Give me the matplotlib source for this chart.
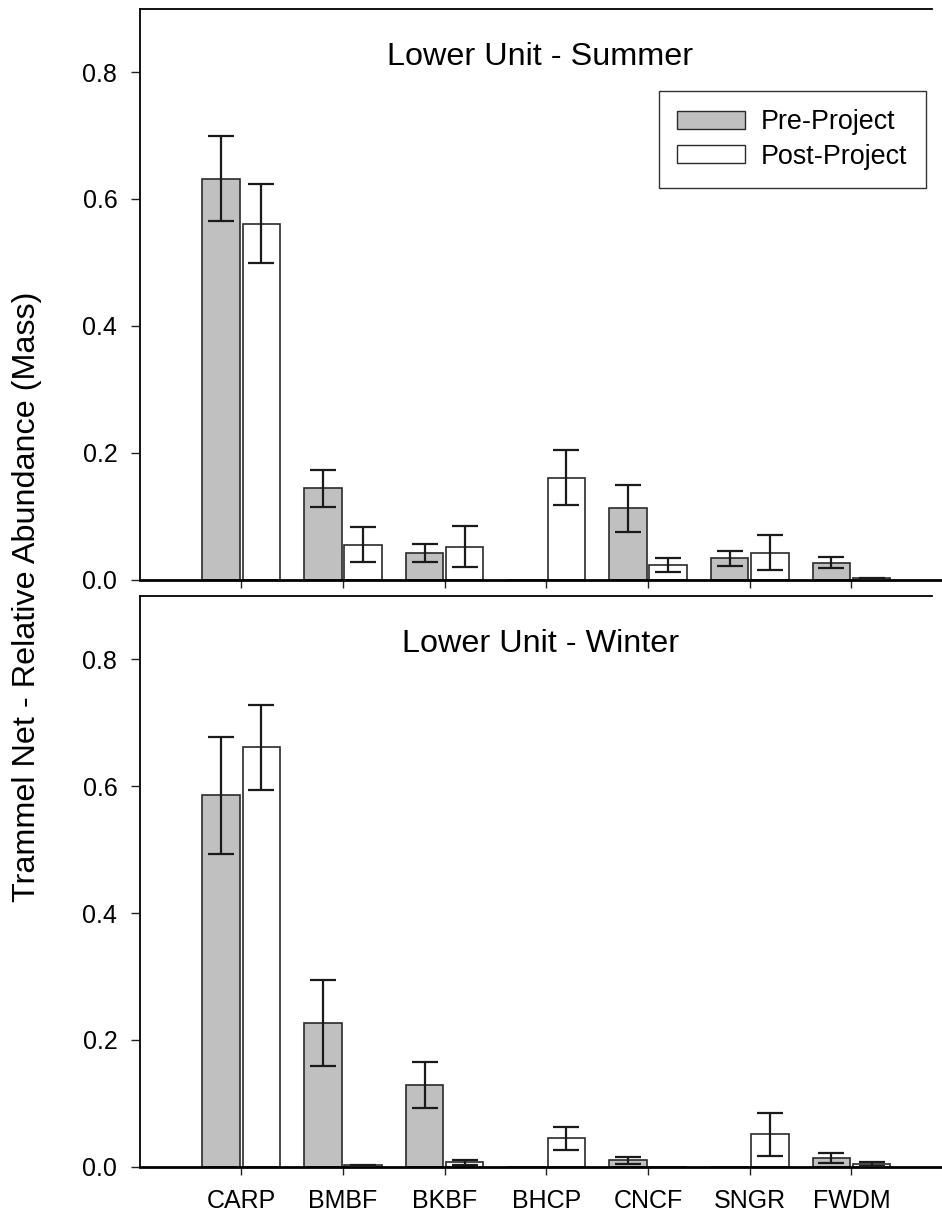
import matplotlib
matplotlib.use("Agg")
import matplotlib.pyplot as plt
import numpy as np
from matplotlib.patches import Patch

plt.rcParams['font.family'] = ['Liberation Sans', 'DejaVu Sans']

categories = ["CARP", "BMBF", "BKBF", "BHCP", "CNCF", "SNGR", "FWDM"]

summer_pre = [0.632, 0.144, 0.042, 0.0, 0.112, 0.0334, 0.0265]
summer_pre_err = [0.067, 0.029, 0.0145, 0.0, 0.037, 0.0115, 0.009]
summer_post = [0.561, 0.055, 0.052, 0.1605, 0.023, 0.042, 0.002]
summer_post_err = [0.062, 0.028, 0.032, 0.043, 0.011, 0.0275, 0.001]

winter_pre = [0.5856, 0.227, 0.129, 0.0, 0.010, 0.0, 0.0142]
winter_pre_err = [0.092, 0.068, 0.036, 0.0, 0.005, 0.0, 0.008]
winter_post = [0.661, 0.002, 0.0068, 0.0447, 0.0, 0.051, 0.0037]
winter_post_err = [0.067, 0.0007, 0.004, 0.0184, 0.0, 0.034, 0.003]

titles = ["Lower Unit - Summer", "Lower Unit - Winter"]
legend_labels = ["Pre-Project", "Post-Project"]
ylabel = "Trammel Net - Relative Abundance (Mass)"

W, H = 942, 1220
fig = plt.figure(figsize=(W / 100, H / 100), dpi=100)

left = 139.5 / W
right = 941 / W
ax_h = 570.8 / H
ax1 = fig.add_axes([left, 1 - 579.5 / H, right - left, ax_h])
ax2 = fig.add_axes([left, 1 - 1166.7 / H, right - left, ax_h])

x = np.arange(len(categories))
bw = 0.368
off = 0.197
gray = "#c0c0c0"
edge = "#2a2a2a"

def draw(ax, pre, pre_e, post, post_e, title, show_labels):
    ax.bar(x - off, pre, bw, color=gray, edgecolor=edge, linewidth=1.2, zorder=2)
    ax.bar(x + off, post, bw, color="white", edgecolor=edge, linewidth=1.2, zorder=2)
    for xs, vals, errs in ((x - off, pre, pre_e), (x + off, post, post_e)):
        for xi, v, e in zip(xs, vals, errs):
            if v > 0:
                ax.errorbar(xi, v, yerr=e, fmt="none", ecolor="#1a1a1a",
                            elinewidth=1.6, capsize=9.5, capthick=1.6, zorder=3)
    ax.set_xlim(-1, 6.88)
    ax.set_ylim(0, 0.9)
    ax.set_yticks([0.0, 0.2, 0.4, 0.6, 0.8])
    ax.set_yticklabels(["0.0", "0.2", "0.4", "0.6", "0.8"])
    ax.set_xticks(x)
    if show_labels:
        ax.set_xticklabels(categories)
    else:
        ax.set_xticklabels([])
    ax.tick_params(axis="both", direction="out", labelsize=18, width=1.0, color="#222222")
    ax.tick_params(axis="y", length=6.5, pad=9.5)
    ax.tick_params(axis="x", length=6.0, pad=10)
    ax.spines["right"].set_visible(False)
    ax.spines["top"].set_bounds(-1, 6.79)
    ax.spines["top"].set_linewidth(1.3)
    ax.spines["left"].set_linewidth(1.3)
    ax.spines["bottom"].set_linewidth(2.0)
    ax.text(0.5, 0.916, title, transform=ax.transAxes, ha="center", va="center", fontsize=23.3)

draw(ax1, summer_pre, summer_pre_err, summer_post, summer_post_err, titles[0], False)
draw(ax2, winter_pre, winter_pre_err, winter_post, winter_post_err, titles[1], True)

handles = [Patch(facecolor=gray, edgecolor=edge, linewidth=1.0),
           Patch(facecolor="white", edgecolor=edge, linewidth=1.0)]
leg = ax1.legend(handles, legend_labels, loc="upper left",
                 bbox_to_anchor=((659 - 139.5) / (941 - 139.5), 1 - (91 - 8.7) / 570.8),
                 fontsize=19.4, frameon=True, fancybox=False, edgecolor="black",
                 handlelength=2.5, handleheight=0.63, handletextpad=0.6,
                 borderpad=0.68, labelspacing=0.31, borderaxespad=0)
leg.get_frame().set_linewidth(1.0)

fig.text(27 / W, 1 - 597 / H, ylabel, rotation=90, ha="center", va="center", fontsize=23.3)

fig.savefig("out.png", dpi=100)
